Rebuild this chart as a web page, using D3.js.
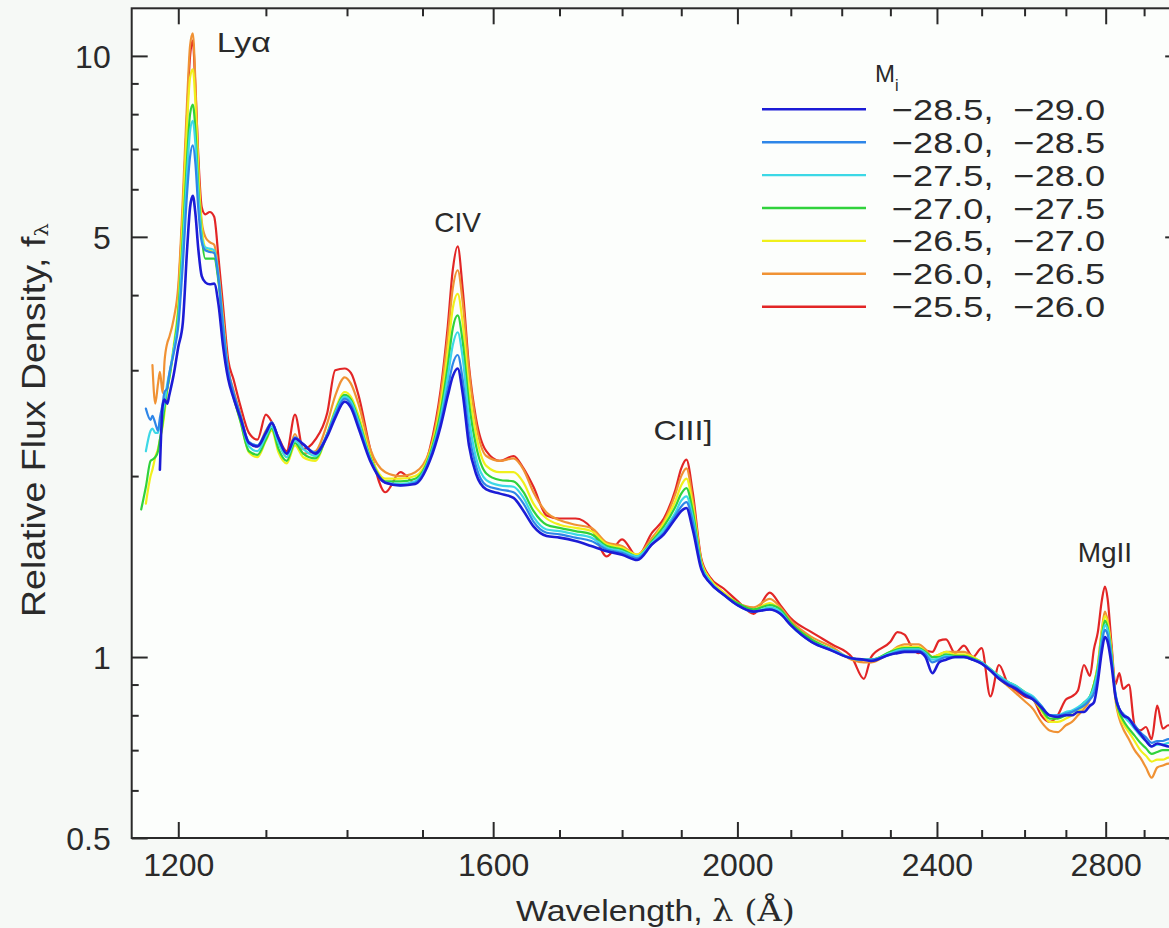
<!DOCTYPE html>
<html>
<head>
<meta charset="utf-8">
<script src="https://cdn.jsdelivr.net/npm/d3@7"></script>
<style>
  html, body { margin: 0; padding: 0; background: #f6f9f6; }
  svg { display: block; }
</style>
</head>
<body>
<svg id="chart" width="1169" height="928"></svg>
<script>
// Rest-frame wavelength grid (Angstrom)
const wavelengths = [
  1160, 1165, 1170, 1172, 1175, 1178, 1180, 1183, 1185, 1188,
  1190, 1195, 1200, 1205, 1210, 1213, 1216, 1219, 1222, 1226,
  1230, 1235, 1240, 1245, 1250, 1256, 1262, 1270, 1280, 1290,
  1300, 1307, 1315, 1325, 1335, 1345, 1360, 1375, 1385, 1397,
  1405, 1415, 1430, 1450, 1470, 1490, 1510, 1525, 1535, 1542,
  1549, 1556, 1565, 1575, 1590, 1610, 1630, 1645, 1660, 1680,
  1700, 1725, 1750, 1775, 1800, 1825, 1850, 1870, 1890, 1900,
  1909, 1920, 1935, 1950, 1975, 2000, 2030, 2060, 2080, 2100,
  2140, 2180, 2220, 2245, 2260, 2300, 2315, 2330, 2345, 2360,
  2375, 2390, 2405, 2420, 2440, 2460, 2480, 2500, 2520, 2540,
  2560, 2580, 2600, 2620, 2640, 2660, 2680, 2700, 2715, 2730,
  2745, 2760, 2770, 2780, 2790, 2798, 2805, 2815, 2825, 2835,
  2845, 2860, 2875, 2890, 2905, 2920, 2935, 2950, 2965, 2980
];

// Composite spectra, one per absolute-magnitude bin (null = no coverage)
const flux_285_290 = [
  null, null, null, null, null, null, 2.05, 2.62, 2.68, 2.64,
  2.72, 2.95, 3.28, 3.6, 4.85, 5.6, 5.85, 5.45, 4.8, 4.3,
  4.2, 4.17, 4.18, 3.85, 3.3, 2.9, 2.7, 2.5, 2.27, 2.24,
  2.36, 2.45, 2.31, 2.18, 2.31, 2.26, 2.18, 2.33, 2.5, 2.66,
  2.6, 2.4, 2.12, 1.95, 1.93, 1.94, 2.12, 2.42, 2.72, 2.93,
  3.02, 2.75, 2.25, 2.02, 1.9, 1.87, 1.84, 1.75, 1.65, 1.59,
  1.58, 1.56, 1.53, 1.5, 1.48, 1.45, 1.54, 1.6, 1.7, 1.75,
  1.77, 1.63, 1.4, 1.33, 1.27, 1.22, 1.19, 1.2, 1.18, 1.13,
  1.06, 1.025, 0.995, 0.99, 0.985, 1.01, 1.015, 1.02, 1.02, 1.02,
  1.0, 0.94, 0.98, 0.99, 1.0, 1.0, 0.99, 0.975, 0.95, 0.92,
  0.9, 0.885, 0.865, 0.85, 0.825, 0.8, 0.795, 0.8, 0.8, 0.81,
  0.81, 0.83, 0.84, 0.91, 1.02, 1.08, 1.06, 0.97, 0.86, 0.82,
  0.8, 0.79, 0.765, 0.745, 0.725, 0.71, 0.718, 0.714, 0.71, 0.71
];
const flux_280_285 = [
  null, 2.59, 2.48, 2.52, 2.45, 2.38, 2.5, 2.64, 2.76, 2.8,
  2.95, 3.2, 3.55, 4.5, 6.0, 6.8, 7.1, 6.6, 5.6, 4.9,
  4.75, 4.72, 4.7, 4.25, 3.55, 3.0, 2.76, 2.53, 2.28, 2.25,
  2.37, 2.46, 2.31, 2.18, 2.32, 2.26, 2.19, 2.35, 2.53, 2.69,
  2.63, 2.43, 2.13, 1.95, 1.93, 1.95, 2.14, 2.46, 2.8, 3.07,
  3.18, 2.9, 2.36, 2.08, 1.93, 1.9, 1.88, 1.8, 1.68, 1.61,
  1.6, 1.58, 1.56, 1.51, 1.49, 1.46, 1.54, 1.61, 1.72, 1.78,
  1.81, 1.68, 1.41, 1.33, 1.27, 1.22, 1.19, 1.2, 1.18, 1.13,
  1.06, 1.025, 0.995, 0.99, 0.99, 1.01, 1.02, 1.025, 1.025, 1.025,
  1.01, 0.98, 0.99, 1.0, 1.0, 1.0, 0.99, 0.975, 0.95, 0.925,
  0.905, 0.89, 0.87, 0.855, 0.83, 0.8, 0.8, 0.805, 0.81, 0.82,
  0.83, 0.85, 0.87, 0.93, 1.05, 1.11, 1.09, 0.99, 0.87, 0.82,
  0.805, 0.79, 0.77, 0.75, 0.735, 0.72, 0.725, 0.725, 0.73, 0.73
];
const flux_275_280 = [
  null, 2.2, 2.38, 2.4, 2.36, 2.36, 2.45, 2.55, 2.65, 2.85,
  2.95, 3.25, 3.65, 4.8, 6.5, 7.5, 7.8, 7.1, 5.9, 5.0,
  4.8, 4.78, 4.75, 4.3, 3.6, 2.98, 2.74, 2.5, 2.24, 2.2,
  2.33, 2.42, 2.27, 2.15, 2.29, 2.22, 2.16, 2.35, 2.55, 2.71,
  2.66, 2.46, 2.14, 1.95, 1.94, 1.96, 2.15, 2.5, 2.92, 3.3,
  3.47, 3.15, 2.5, 2.15, 1.97, 1.93, 1.92, 1.84, 1.71, 1.63,
  1.62, 1.6, 1.58, 1.52, 1.5, 1.47, 1.55, 1.63, 1.74, 1.82,
  1.85, 1.71, 1.42, 1.34, 1.27, 1.22, 1.19, 1.21, 1.19, 1.13,
  1.06, 1.03, 0.995, 0.99, 0.99, 1.015, 1.025, 1.03, 1.03, 1.03,
  1.015, 0.99, 0.995, 1.005, 1.0, 1.0, 0.99, 0.98, 0.955, 0.93,
  0.91, 0.895, 0.875, 0.86, 0.83, 0.8, 0.8, 0.81, 0.815, 0.825,
  0.84, 0.86, 0.89, 0.95, 1.07, 1.13, 1.11, 1.0, 0.87, 0.82,
  0.8, 0.78, 0.76, 0.74, 0.725, 0.71, 0.715, 0.715, 0.72, 0.72
];
const flux_270_275 = [
  1.76, 1.92, 2.12, 2.13, 2.15, 2.2, 2.3, 2.45, 2.6, 2.8,
  2.9, 3.25, 3.75, 5.0, 6.9, 8.0, 8.3, 7.5, 6.1, 5.0,
  4.6, 4.6, 4.6, 4.2, 3.55, 2.95, 2.71, 2.47, 2.2, 2.17,
  2.3, 2.4, 2.22, 2.12, 2.27, 2.18, 2.14, 2.35, 2.56, 2.73,
  2.68, 2.48, 2.15, 1.96, 1.96, 1.98, 2.17, 2.56, 3.05, 3.52,
  3.7, 3.35, 2.65, 2.25, 2.02, 1.97, 1.96, 1.88, 1.75, 1.66,
  1.64, 1.62, 1.6, 1.53, 1.51, 1.47, 1.56, 1.65, 1.78, 1.87,
  1.91, 1.75, 1.43, 1.34, 1.27, 1.23, 1.2, 1.22, 1.2, 1.14,
  1.07, 1.03, 0.995, 0.99, 0.99, 1.02, 1.03, 1.035, 1.035, 1.035,
  1.02, 1.0, 1.0, 1.01, 1.005, 1.005, 0.995, 0.98, 0.955, 0.93,
  0.91, 0.895, 0.875, 0.855, 0.82, 0.79, 0.79, 0.8, 0.81, 0.82,
  0.84, 0.86, 0.9, 0.96, 1.08, 1.15, 1.12, 1.01, 0.86, 0.81,
  0.785, 0.76, 0.74, 0.72, 0.705, 0.69, 0.695, 0.7, 0.7, 0.7
];
const flux_265_270 = [
  null, 1.8, 2.0, 2.05, 2.15, 2.22, 2.3, 2.42, 2.55, 2.78,
  2.9, 3.3, 3.85, 5.4, 7.9, 9.2, 9.5, 8.3, 6.5, 5.2,
  4.8, 4.75, 4.7, 4.25, 3.6, 2.97, 2.72, 2.47, 2.19, 2.15,
  2.29, 2.38, 2.19, 2.1, 2.25, 2.15, 2.12, 2.36, 2.58, 2.76,
  2.71, 2.52, 2.17, 1.98, 1.98, 2.0, 2.19, 2.63, 3.22, 3.8,
  4.02, 3.6, 2.8, 2.35, 2.08, 2.03, 2.03, 1.95, 1.8, 1.7,
  1.66, 1.64, 1.62, 1.54, 1.52, 1.48, 1.56, 1.67, 1.82, 1.93,
  1.98, 1.79, 1.44, 1.35, 1.28, 1.23, 1.2, 1.23, 1.2, 1.14,
  1.07, 1.03, 0.995, 0.99, 0.99, 1.02, 1.035, 1.04, 1.04, 1.04,
  1.02, 1.0, 1.01, 1.02, 1.01, 1.01, 1.0, 0.98, 0.955, 0.93,
  0.91, 0.89, 0.87, 0.85, 0.815, 0.78, 0.78, 0.79, 0.8, 0.81,
  0.83, 0.86, 0.9, 0.97, 1.1, 1.17, 1.14, 1.02, 0.86, 0.8,
  0.775, 0.75, 0.725, 0.7, 0.685, 0.67, 0.675, 0.675, 0.68, 0.68
];
const flux_260_265 = [
  null, null, null, 3.06, 2.64, 2.85, 2.98, 2.75, 3.1, 3.33,
  3.4, 3.65, 4.15, 5.8, 8.6, 10.4, 10.9, 9.0, 6.7, 5.3,
  5.0, 4.9, 4.85, 4.35, 3.7, 3.02, 2.78, 2.54, 2.27, 2.24,
  2.38, 2.45, 2.28, 2.15, 2.35, 2.18, 2.2, 2.45, 2.72, 2.92,
  2.85, 2.63, 2.22, 2.03, 2.0, 2.03, 2.21, 2.72, 3.42, 4.1,
  4.4, 3.9, 3.0, 2.45, 2.16, 2.12, 2.14, 2.05, 1.88, 1.74,
  1.69, 1.66, 1.64, 1.55, 1.53, 1.48, 1.58, 1.68, 1.87, 2.0,
  2.06, 1.83, 1.45, 1.35, 1.28, 1.23, 1.21, 1.25, 1.21, 1.15,
  1.08, 1.04, 0.99, 0.98, 0.98, 1.02, 1.04, 1.05, 1.05, 1.05,
  1.03, 1.0, 1.01, 1.02, 1.02, 1.02, 1.0, 0.98, 0.95, 0.92,
  0.895, 0.87, 0.845, 0.82, 0.78, 0.755, 0.75, 0.77, 0.78, 0.8,
  0.82, 0.85, 0.9, 0.97, 1.11, 1.19, 1.15, 1.03, 0.85, 0.79,
  0.76, 0.73, 0.7, 0.68, 0.655, 0.63, 0.655, 0.66, 0.665, 0.665
];
const flux_255_260 = [
  null, null, null, null, null, null, null, null, null, null,
  null, null, 4.0, 5.5, 8.2, 10.0, 10.6, 8.8, 6.9, 5.6,
  5.45, 5.5, 5.4, 4.6, 3.85, 3.12, 2.9, 2.62, 2.36, 2.3,
  2.53, 2.46, 2.32, 2.2, 2.53, 2.22, 2.3, 2.55, 3.0, 3.02,
  2.97, 2.72, 2.22, 1.88, 2.03, 1.95, 2.22, 2.78, 3.55, 4.4,
  4.82, 4.1, 3.05, 2.5, 2.2, 2.12, 2.16, 2.06, 1.92, 1.72,
  1.7, 1.7, 1.64, 1.47, 1.57, 1.47, 1.61, 1.7, 1.9, 2.06,
  2.13, 1.88, 1.46, 1.36, 1.3, 1.24, 1.18, 1.28, 1.22, 1.16,
  1.1, 1.05, 1.0, 0.92, 1.0, 1.06, 1.1, 1.09, 1.04, 1.015,
  1.025, 1.02, 1.065, 1.07, 1.015, 1.045, 1.0, 1.035, 0.86, 0.97,
  0.905, 0.88, 0.86, 0.85, 0.8, 0.78, 0.8, 0.85, 0.86, 0.88,
  0.97, 0.93, 1.03, 1.1, 1.24, 1.31, 1.25, 1.05, 0.9, 0.94,
  0.885, 0.9, 0.77, 0.755, 0.765, 0.73, 0.83, 0.76, 0.77, 0.76
];

// Magnitude bins (legend order, brightest first) and their colours
const binLabels = [
  "\u221228.5,\u00a0\u00a0\u221229.0",
  "\u221228.0,\u00a0\u00a0\u221228.5",
  "\u221227.5,\u00a0\u00a0\u221228.0",
  "\u221227.0,\u00a0\u00a0\u221227.5",
  "\u221226.5,\u00a0\u00a0\u221227.0",
  "\u221226.0,\u00a0\u00a0\u221226.5",
  "\u221225.5,\u00a0\u00a0\u221226.0"
];
const binColors = ["#1c1cd6", "#2e86e8", "#3cd8e6", "#30d23c", "#f0f01c", "#f09234", "#e22626"];
const binFlux = [flux_285_290, flux_280_285, flux_275_280, flux_270_275, flux_265_270, flux_260_265, flux_255_260];

// Axis ticks
const xTickValues = d3.range(1200, 3000, 100);
const xTickLabels = [1200, 1600, 2000, 2400, 2800];
const yTickValues = [0.5, 0.6, 0.7, 0.8, 0.9, 1, 2, 3, 4, 5, 6, 7, 8, 9, 10];
const yTickLabels = [0.5, 1, 5, 10];

// Emission-line annotations
const lineNames = ["Ly\u03b1", "CIV", "CIII]", "MgII"];
const lineCenters = [1216, 1549, 1909, 2798];

// ---------------------------------------------------------------
const svg = d3.select("#chart");
const W = 1169, H = 928;
const plot = { left: 131.7, right: 1181.2, top: 8.3, bottom: 838 };
const FONT = "'Liberation Sans', Arial, Helvetica, sans-serif";
const INK = "#2a2a2a";

const x = d3.scaleLog().domain([1150, 3000]).range([plot.left, plot.right]);
const y = d3.scaleLog().domain([0.5, 12]).range([plot.bottom, plot.top]);

svg.append("rect").attr("width", W).attr("height", H).attr("fill", "#f6f9f6");
svg.append("rect")
  .attr("x", plot.left).attr("y", plot.top)
  .attr("width", plot.right - plot.left).attr("height", plot.bottom - plot.top)
  .attr("fill", "#fcfefc");

svg.append("clipPath").attr("id", "plotClip")
  .append("rect")
  .attr("x", plot.left).attr("y", plot.top)
  .attr("width", plot.right - plot.left).attr("height", plot.bottom - plot.top);

// Spectra: faintest bin underneath, brightest on top
const line = d3.line()
  .defined(d => d.f != null)
  .x(d => x(d.wl))
  .y(d => y(d.f))
  .curve(d3.curveMonotoneX);

const order = d3.range(binFlux.length).reverse();
const gLines = svg.append("g").attr("clip-path", "url(#plotClip)");
order.forEach(i => {
  const pts = wavelengths.map((wl, k) => ({ wl, f: binFlux[i][k] }));
  gLines.append("path")
    .datum(pts)
    .attr("d", line)
    .attr("fill", "none")
    .attr("stroke", binColors[i])
    .attr("stroke-width", i === 0 ? 2.6 : 2.2)
    .attr("stroke-linejoin", "round")
    .attr("stroke-linecap", "round");
});

// Axes: inward ticks on all four sides
const isMajorX = d => xTickLabels.includes(d);
const isMajorY = d => yTickLabels.includes(d);

function styleAxis(g) {
  g.select(".domain").remove();
  g.selectAll(".tick line").attr("stroke", INK).attr("stroke-width", 2);
  g.selectAll(".tick text").attr("font-family", FONT).attr("font-size", 32).attr("fill", INK);
}

svg.append("g")
  .attr("transform", `translate(0,${plot.bottom})`)
  .call(d3.axisBottom(x).tickValues(xTickValues).tickSize(-8).tickPadding(15)
    .tickFormat(d => isMajorX(d) ? String(d) : ""))
  .call(styleAxis)
  .call(g => g.selectAll(".tick line").attr("y2", d => isMajorX(d) ? -16 : -8));

svg.append("g")
  .attr("transform", `translate(0,${plot.top})`)
  .call(d3.axisTop(x).tickValues(xTickValues).tickSize(-8).tickFormat(""))
  .call(styleAxis)
  .call(g => g.selectAll(".tick line").attr("y2", d => isMajorX(d) ? 16 : 8));

svg.append("g")
  .attr("transform", `translate(${plot.left},0)`)
  .call(d3.axisLeft(y).tickValues(yTickValues).tickSize(-7).tickPadding(21)
    .tickFormat(d => isMajorY(d) ? String(d) : ""))
  .call(styleAxis)
  .call(g => g.selectAll(".tick line").attr("x2", d => isMajorY(d) ? 16 : 7))
  .call(g => g.selectAll(".tick text").attr("dy", "0.36em"));

svg.append("g")
  .attr("transform", `translate(${plot.right},0)`)
  .call(d3.axisRight(y).tickValues(yTickValues).tickSize(-7).tickFormat(""))
  .call(styleAxis)
  .call(g => g.selectAll(".tick line").attr("x2", d => isMajorY(d) ? -16 : -7));

// Frame
svg.append("rect")
  .attr("x", plot.left).attr("y", plot.top)
  .attr("width", plot.right - plot.left).attr("height", plot.bottom - plot.top)
  .attr("fill", "none").attr("stroke", INK).attr("stroke-width", 2);

// Axis titles
const xTitle = svg.append("text")
  .attr("x", 516).attr("y", 921)
  .attr("font-family", FONT).attr("font-size", 30).attr("fill", INK)
  .attr("textLength", 279).attr("lengthAdjust", "spacingAndGlyphs");
xTitle.append("tspan").text("Wavelength, ");
xTitle.append("tspan").attr("font-family", "'DejaVu Serif', 'Liberation Serif', serif").text("\u03bb (\u00c5)");

const yTitle = svg.append("text")
  .attr("transform", "translate(45,420) rotate(-90)")
  .attr("text-anchor", "middle")
  .attr("font-family", FONT).attr("font-size", 33).attr("fill", INK)
  .attr("textLength", 394).attr("lengthAdjust", "spacingAndGlyphs");
yTitle.append("tspan").text("Relative Flux Density, f");
yTitle.append("tspan").attr("font-family", "'DejaVu Serif', serif").attr("font-size", 19).attr("dy", 3).text("\u03bb");

// Emission-line labels
const labelSpec = [
  { dx: 24, baseline: 51.5, anchor: "start", len: 54 },
  { dx: 0, baseline: 231.5, anchor: "middle", len: null },
  { dx: -33, baseline: 440, anchor: "start", len: 59 },
  { dx: 0, baseline: 561.5, anchor: "middle", len: null }
];
lineNames.forEach((name, i) => {
  const s = labelSpec[i];
  const t = svg.append("text")
    .attr("x", x(lineCenters[i]) + s.dx)
    .attr("y", s.baseline)
    .attr("text-anchor", s.anchor)
    .attr("font-family", FONT).attr("font-size", 28).attr("fill", INK)
    .text(name);
  if (s.len) t.attr("textLength", s.len).attr("lengthAdjust", "spacingAndGlyphs");
});

// Legend
const legend = svg.append("g");
const mi = legend.append("text")
  .attr("x", 875).attr("y", 82)
  .attr("font-family", FONT).attr("font-size", 24).attr("fill", INK);
mi.append("tspan").text("M");
mi.append("tspan").attr("font-size", 16).attr("dy", 9).text("i");

binLabels.forEach((lab, i) => {
  const yy = 109.3 + i * 32.9;
  legend.append("line")
    .attr("x1", 762).attr("x2", 866).attr("y1", yy).attr("y2", yy)
    .attr("stroke", binColors[i]).attr("stroke-width", 2.4);
  legend.append("text")
    .attr("x", 892).attr("y", yy + 10.5)
    .attr("font-family", FONT).attr("font-size", 29).attr("fill", INK)
    .attr("textLength", 213).attr("lengthAdjust", "spacingAndGlyphs")
    .text(lab);
});
</script>
</body>
</html>
